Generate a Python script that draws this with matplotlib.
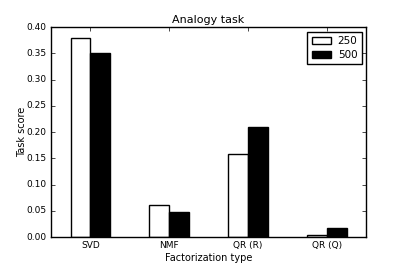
import matplotlib
matplotlib.use('Agg')
import matplotlib.pyplot as plt
import numpy as np

plt.style.use('classic')

categories = ['SVD', 'NMF', 'QR (R)', 'QR (Q)']
scores_250 = [0.380, 0.061, 0.159, 0.004]
scores_500 = [0.351, 0.048, 0.210, 0.017]

fig = plt.figure(figsize=(4.07, 2.71), dpi=100)
ax = fig.add_axes([0.125, 0.125, 0.775, 0.775])

x = np.arange(len(categories))
w = 0.25
ax.bar(x - w / 2, scores_250, w, color='white', edgecolor='black', label='250')
ax.bar(x + w / 2, scores_500, w, color='black', edgecolor='black', label='500')

ax.set_xlim(-0.5, 3.5)
ax.set_ylim(0, 0.40)
ax.set_xticks(x)
ax.set_xticklabels(categories)
ax.set_yticks(np.arange(0, 0.41, 0.05))
ax.tick_params(labelsize=6.5, length=3, pad=3)
ax.set_xlabel('Factorization type', fontsize=7, labelpad=2)
ax.set_ylabel('Task score', fontsize=7, labelpad=0)
ax.set_title('Analogy task', fontsize=8, pad=3)
ax.legend(loc='upper right', fontsize=7.5, handlelength=1.9, borderpad=0.4,
          labelspacing=0.4, handletextpad=0.6, borderaxespad=0.45)

fig.savefig('out.png', dpi=100)
